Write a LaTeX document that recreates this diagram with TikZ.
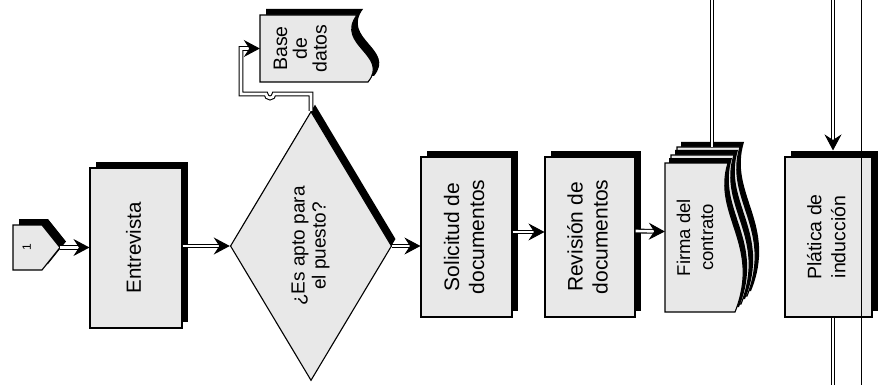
\documentclass[tikz,border=0pt]{standalone}
\usepackage{fontspec}
\setmainfont{Liberation Sans}
\usepackage{graphicx}
\usetikzlibrary{arrows.meta,shapes.geometric,shadows,calc}
\newcommand{\vtxt}[1]{\rotatebox{90}{\begin{tabular}{@{}c@{}}#1\end{tabular}}}

\begin{document}
\begin{tikzpicture}[x=1pt,y=-1pt,
  box/.style={draw=black,line width=1.1pt,fill=black!9,inner sep=0pt},
  shadowed/.style 2 args={drop shadow={shadow xshift=#1,shadow yshift=#2,opacity=1,fill=black}},
  proc/.style={box,shadowed={6pt}{6pt}},
  flow/.style={preaction={-,draw=black,line width=4.8pt,shorten >=9pt},
    draw=white,line width=2.6pt,
    -{Stealth[length=16pt,width=17pt,inset=5.5pt,color=black,line width=1pt]}},
  pipe/.style={draw=black,line width=1.1pt,double=white,double distance=2.6pt}]
\fill[white] (0,0) rectangle (878,385);
\useasboundingbox (0,0) rectangle (878,385);

% conector de pagina
\filldraw[proc] (13,225) -- (42,225) -- (60,247.5) -- (42,270) -- (13,270) -- cycle;
\node[inner sep=0pt,font=\fontsize{12}{14}\selectfont] (c1) at (28,247.5) {\vtxt{1}};
\coordinate (c1tip) at (60,247.5);

\node[proc,minimum width=92pt,minimum height=160pt,font=\fontsize{20.5}{24}\selectfont]
  (entre) at (136,248) {\vtxt{Entrevista}};
\node[box,diamond,shadowed={4pt}{7pt},minimum width=158pt,minimum height=269pt,
  font=\fontsize{19}{21}\selectfont] (dia) at (311,246) {\vtxt{¿Es apto para\\el puesto?}};

% base de datos
\filldraw[proc] (260,15) -- (357,15) .. controls (335,45) and (390,55) .. (368,82) -- (260,82) -- cycle;
\node[inner sep=0pt,minimum width=86pt,minimum height=67pt,font=\fontsize{19.5}{19}\selectfont]
  (db) at (303,48.5) {\vtxt{Base\\de\\datos}};
\coordinate (hop) at (274,94);

\node[proc,minimum width=91pt,minimum height=160pt,font=\fontsize{21}{25}\selectfont]
  (solic) at (466.5,237) {\vtxt{Solicitud de\\documentos}};
\node[proc,minimum width=90pt,minimum height=160pt,font=\fontsize{21}{25}\selectfont]
  (revis) at (590,237) {\vtxt{Revisión de\\documentos}};

% firma, varias hojas
\foreach \dx/\dy in {12/-16,6/-8,0/0}
  \filldraw[box,shadowed={4pt}{5pt},shift={(\dx,\dy)}] (665,163) -- (728,163)
    .. controls (712,215) and (762,245) .. (735,312) -- (665,312) -- cycle;
\node[inner sep=0pt,minimum width=64pt,minimum height=149pt,font=\fontsize{18.5}{23}\selectfont]
  (firma) at (697,237.5) {\vtxt{Firma del\\contrato}};
\coordinate (fout) at (712,0);

\node[proc,minimum width=87pt,minimum height=160pt,font=\fontsize{19.5}{24}\selectfont]
  (plat) at (828.5,237) {\vtxt{Plática de\\inducción}};
\coordinate (pin) at (833,0);
\coordinate (pout) at (833,385);
\coordinate (edgeT) at (861,0);
\coordinate (edgeB) at (861,385);

\draw[flow] (c1tip) -- (c1tip -| entre.west);
\draw[flow] (entre.east |- dia.west) -- (dia.west);
\draw[flow] (dia.east) -- (dia.east -| solic.west);
\draw[flow] ($(solic.east)+(0,-5)$) -- ($(revis.west)+(0,-5)$);
\draw[flow] ($(revis.east)+(0,-6)$) -- ($(firma.west)+(0,-6)$);
\draw[flow] (dia.north) |- (hop) arc[start angle=0,end angle=180,radius=4] -- ++(-25,0) |- (db.west);
\draw[pipe] ($(firma.north)+(15,-16)$) -- (fout);
\draw[flow] (pin) -- ($(pin |- plat.north)+(0,-6)$);
\draw[pipe] (plat.south -| pout) -- (pout);
\draw[line width=0.8pt] (edgeT) -- (edgeB);
\end{tikzpicture}
\end{document}
